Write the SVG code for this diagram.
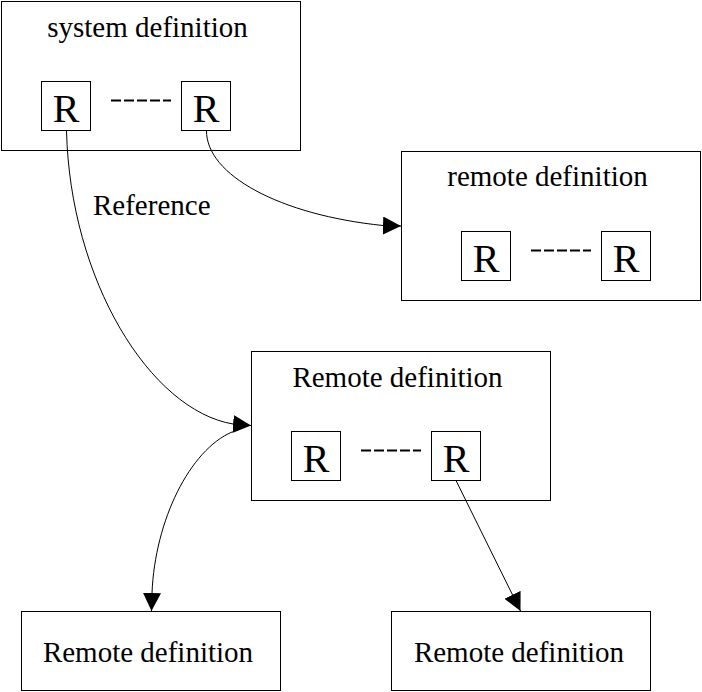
<svg xmlns="http://www.w3.org/2000/svg" width="702" height="692" viewBox="0 0 702 692">
<style>
  .box { fill: #fff; stroke: #000; stroke-width: 1; }
  .rbox { fill: none; stroke: #000; stroke-width: 1; }
  text { font-family: 'Liberation Serif', 'Times New Roman', serif; fill: #000; }
  .label { font-size: 29px; text-anchor: middle; }
  .rlabel { font-size: 40px; text-anchor: middle; }
  .start { text-anchor: start; }
  .dash { stroke: #000; stroke-width: 2; stroke-dasharray: 10 3; fill: none; }
  .edge { fill: none; stroke: #000; stroke-width: 1; }
</style>
<defs>
  <marker id="arrow" markerUnits="userSpaceOnUse" markerWidth="20" markerHeight="20" refX="18" refY="9" orient="auto" viewBox="0 0 20 20">
    <path d="M0,0 L18,9 L0,18 z" fill="#000"/>
  </marker>
</defs>
<rect width="702" height="692" fill="#fff"/>

<g id="system-definition">
  <rect class="box" x="1.5" y="1.5" width="299" height="149"/>
  <text class="label" x="147.5" y="37">system definition</text>
  <rect class="rbox" x="41.5" y="81.5" width="49" height="49"/>
  <text class="rlabel" x="66" y="122">R</text>
  <line class="dash" x1="111" y1="100.5" x2="171" y2="100.5"/>
  <rect class="rbox" x="181.5" y="81.5" width="49" height="49"/>
  <text class="rlabel" x="206" y="122">R</text>
</g>

<g id="remote-definition-top">
  <rect class="box" x="401.5" y="151.5" width="299" height="149"/>
  <text class="label" x="547.5" y="186">remote definition</text>
  <rect class="rbox" x="461.5" y="231.5" width="49" height="49"/>
  <text class="rlabel" x="486" y="272">R</text>
  <line class="dash" x1="531" y1="250.5" x2="591" y2="250.5"/>
  <rect class="rbox" x="601.5" y="231.5" width="49" height="49"/>
  <text class="rlabel" x="626" y="272">R</text>
</g>

<g id="remote-definition-middle">
  <rect class="box" x="251.5" y="351.5" width="299" height="149"/>
  <text class="label" x="397.5" y="387">Remote definition</text>
  <rect class="rbox" x="291.5" y="431.5" width="49" height="49"/>
  <text class="rlabel" x="316" y="472">R</text>
  <line class="dash" x1="361" y1="450.5" x2="421" y2="450.5"/>
  <rect class="rbox" x="431.5" y="431.5" width="49" height="49"/>
  <text class="rlabel" x="456" y="472">R</text>
</g>

<g id="remote-definition-bottom-left">
  <rect class="box" x="21.5" y="611.5" width="259" height="79"/>
  <text class="label" x="148" y="662">Remote definition</text>
</g>

<g id="remote-definition-bottom-right">
  <rect class="box" x="391.5" y="611.5" width="259" height="79"/>
  <text class="label" x="519" y="662">Remote definition</text>
</g>

<g id="connectors">
  <path class="edge" d="M66.5,130.5 C70,280 150,410 233,424 L251,425.5" marker-end="url(#arrow)"/>
  <text class="label start" x="93" y="215">Reference</text>
  <path class="edge" d="M206.5,130.5 C206,175 280,215 383,225.5 L401,226" marker-end="url(#arrow)"/>
  <path class="edge" d="M232,432 C190,450 155,520 152,593 L151.5,611" marker-end="url(#arrow)"/>
  <path class="edge" d="M456,480.5 L520.5,611" marker-end="url(#arrow)"/>
</g>
</svg>
